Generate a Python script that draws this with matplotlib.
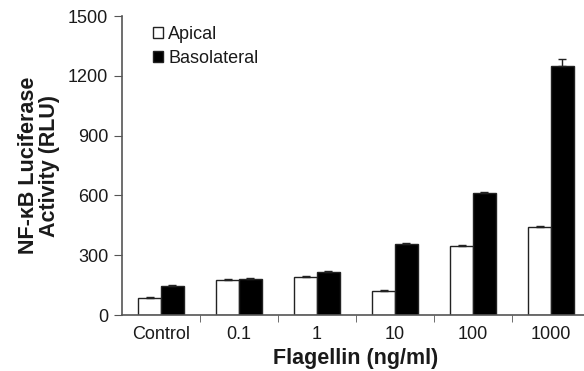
import numpy as np
import matplotlib.pyplot as plt
from matplotlib.ticker import FixedLocator, NullFormatter

plt.rcParams["font.family"] = ["Liberation Sans", "DejaVu Sans"]

categories = ["Control", "0.1", "1", "10", "100", "1000"]
apical = [85, 176, 191, 122, 345, 440]
apical_err = [4, 4, 3, 3, 4, 8]
basolateral = [146, 181, 218, 357, 610, 1248]
basolateral_err = [3, 4, 4, 4, 8, 38]

fig = plt.figure(figsize=(5.84, 3.71), dpi=100)
# axes deliberately run a little past the right edge, as in the original
ax = fig.add_axes([122 / 584, (371 - 315) / 371, 468 / 584, 299 / 371])

x = np.arange(len(categories))
w = 0.29
edge = "#222222"
txt = "#1a1a1a"

ax.bar(x - w / 2, apical, w, color="white", edgecolor=edge, linewidth=1.0,
       label="Apical", zorder=2)
ax.bar(x + w / 2, basolateral, w, color="black", edgecolor=edge, linewidth=1.0,
       label="Basolateral", zorder=2)

# error bars only upward
ax.errorbar(x - w / 2, apical, yerr=[np.zeros(len(x)), apical_err], fmt="none",
            ecolor=edge, elinewidth=1, capsize=3, zorder=3)
ax.errorbar(x + w / 2, basolateral, yerr=[np.zeros(len(x)), basolateral_err],
            fmt="none", ecolor=edge, elinewidth=1, capsize=3, zorder=3)

ax.set_xlim(-0.5, len(categories) - 0.5)
ax.set_ylim(0, 1500)
ax.set_yticks([0, 300, 600, 900, 1200, 1500])

# ticks at group boundaries, labels at group centres
ax.set_xticks(x)
ax.set_xticklabels(categories)
ax.tick_params(axis="x", which="major", length=0, pad=8, labelsize=13,
               labelcolor=txt)
ax.xaxis.set_minor_locator(FixedLocator(x[:-1] + 0.5))
ax.xaxis.set_minor_formatter(NullFormatter())
ax.tick_params(axis="x", which="minor", length=5, color="#555555", direction="out")
ax.tick_params(axis="y", length=6, color="#555555", labelsize=13, pad=4,
               labelcolor=txt)

for s in ["top", "right"]:
    ax.spines[s].set_visible(False)
for s in ["left", "bottom"]:
    ax.spines[s].set_color("#555555")
    ax.spines[s].set_linewidth(1.2)

ax.set_xlabel("Flagellin (ng/ml)", fontsize=15.5, fontweight="bold", labelpad=3.5,
              color=txt)
ax.set_ylabel("NF-κB Luciferase\nActivity (RLU)", fontsize=15.5,
              fontweight="bold", labelpad=6, linespacing=0.95, color=txt)

leg = ax.legend(loc="upper left", bbox_to_anchor=(0.045, 1.0), frameon=False,
                fontsize=13, handlelength=0.55, handleheight=0.55,
                handletextpad=0.3, labelspacing=0.4, borderaxespad=0.15)
for t in leg.get_texts():
    t.set_color(txt)

fig.savefig("out.png", dpi=100)
